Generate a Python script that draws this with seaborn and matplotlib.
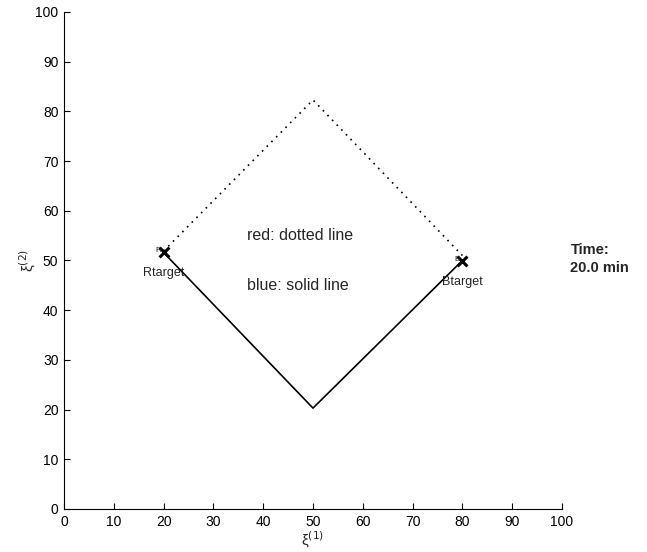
import matplotlib
matplotlib.use("Agg")
from matplotlib import pyplot as plt
import pandas as pd
import seaborn as sns

# path data
red_x = [20, 50, 80]
red_y = [51.9, 82.3, 51.0]
blue_x = [20, 50, 80]
blue_y = [51.6, 20.3, 50.0]
target_x = [20, 80]
target_y = [51.7, 49.9]
target_names = ["Rtarget", "Btarget"]
target_tags = ["R", "B"]

sns.set_style("white")
plt.rcParams["font.family"] = ["Liberation Sans", "DejaVu Sans"]
plt.rcParams["xtick.direction"] = "in"
plt.rcParams["ytick.direction"] = "in"
plt.rcParams["xtick.bottom"] = True
plt.rcParams["ytick.left"] = True

fig = plt.figure(figsize=(6.47, 5.52), dpi=100)
ax = fig.add_axes([0.0989, 0.0779, 0.7697, 0.9004])

red_df = pd.DataFrame({"x": red_x, "y": red_y})
blue_df = pd.DataFrame({"x": blue_x, "y": blue_y})
sns.lineplot(data=red_df, x="x", y="y", sort=False, color="black",
             linestyle=(0, (1, 3)), linewidth=1.2, ax=ax)
sns.lineplot(data=blue_df, x="x", y="y", sort=False, color="black",
             linewidth=1.2, ax=ax)
sns.scatterplot(x=target_x, y=target_y, marker="x", s=50, color="black",
                linewidth=2.2, ax=ax)

for tx, ty, name, tag in zip(target_x, target_y, target_names, target_tags):
    ax.text(tx - 0.5, ty + 0.3, tag, fontsize=6, ha="right", va="center")
    ax.text(tx, ty - 4.2, name, fontsize=9, ha="center", va="center")

ax.text(36.7, 55, "red: dotted line", fontsize=11.5, va="center")
ax.text(36.7, 45, "blue: solid line", fontsize=11.5, va="center")
ax.text(101.7, 50.3, "Time:\n20.0 min", fontsize=10.5, fontweight="bold",
        va="center", linespacing=1.45)

ax.set_xlim(0, 100)
ax.set_ylim(0, 100)
ax.set_xticks(range(0, 101, 10))
ax.set_yticks(range(0, 101, 10))
ax.tick_params(labelsize=10, length=4, width=0.8, colors="black", pad=4)
ax.set_xlabel("\u03be$^{(1)}$", fontsize=11, labelpad=1)
ax.set_ylabel("\u03be$^{(2)}$", fontsize=11, labelpad=-2)
sns.despine(ax=ax)
for s in ["left", "bottom"]:
    ax.spines[s].set_color("black")
    ax.spines[s].set_linewidth(0.8)

fig.savefig("out.png", dpi=100)
